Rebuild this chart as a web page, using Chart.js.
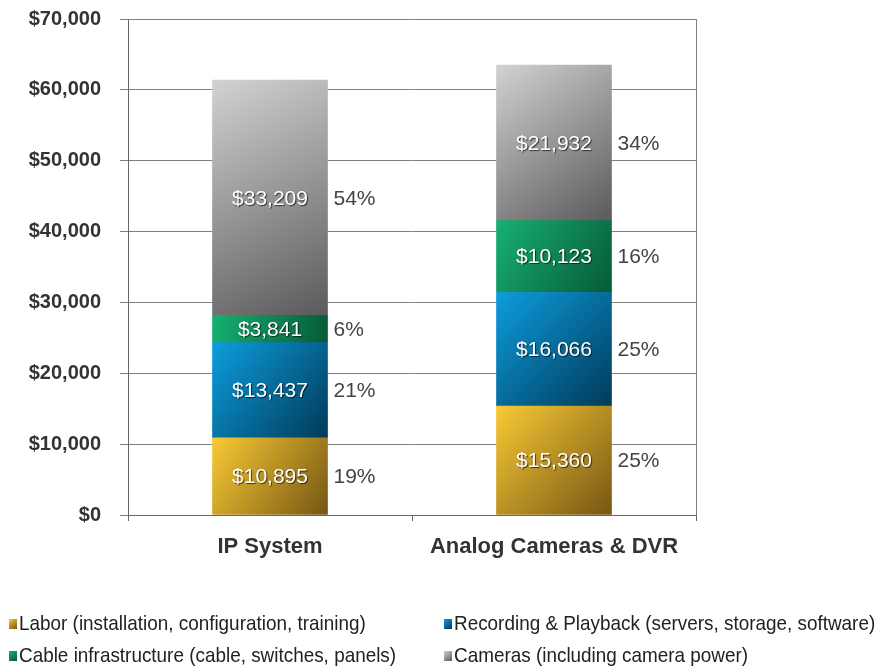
<!DOCTYPE html>
<html>
<head>
<meta charset="utf-8">
<script src="https://cdn.jsdelivr.net/npm/chart.js@4"></script>
<style>
  html, body { margin: 0; padding: 0; background: #fff; }
  #wrap { width: 892px; height: 667px; }
</style>
</head>
<body>
<div id="wrap"><canvas id="costChart" width="892" height="667"></canvas></div>
<script>
// chart data
const categories = ["IP System", "Analog Cameras & DVR"];
const seriesNames = [
  "Labor (installation, configuration, training)",
  "Recording & Playback (servers, storage, software)",
  "Cable infrastructure (cable, switches, panels)",
  "Cameras (including camera power)"
];
const laborCost = [10895, 15360];
const recordingCost = [13437, 16066];
const cableCost = [3841, 10123];
const cameraCost = [33209, 21932];
const laborPct = ["19%", "25%"];
const recordingPct = ["21%", "25%"];
const cablePct = ["6%", "16%"];
const cameraPct = ["54%", "34%"];
const yTickValues = [0, 10000, 20000, 30000, 40000, 50000, 60000, 70000];

// light -> dark gradient per series
const palette = [
  ["#f8ca34", "#765614"],
  ["#0d9ddd", "#003a58"],
  ["#17b072", "#065a36"],
  ["#d2d2d2", "#5a5a5a"]
];
const BAR_W = 115;

function segmentGradient(ctx) {
  const cols = palette[ctx.datasetIndex];
  const chart = ctx.chart;
  const xs = chart.scales.x, ys = chart.scales.y;
  if (!xs || !ys || ctx.type !== "data") return cols[0];
  const i = ctx.dataIndex, d = ctx.datasetIndex;
  let below = 0;
  for (let k = 0; k < d; k++) below += chart.data.datasets[k].data[i];
  const top = below + chart.data.datasets[d].data[i];
  const cx = xs.getPixelForValue(i);
  const y0 = ys.getPixelForValue(top), y1 = ys.getPixelForValue(below);
  if (![cx, y0, y1].every(Number.isFinite)) return cols[0];
  const g = chart.ctx.createLinearGradient(cx - BAR_W / 2, y0, cx + BAR_W / 2, y1);
  g.addColorStop(0, cols[0]);
  g.addColorStop(1, cols[1]);
  return g;
}

const money = v => "$" + Number(v).toLocaleString("en-US");

// value labels inside, percent labels right of each segment
const segmentLabels = {
  id: "segmentLabels",
  afterDatasetsDraw(chart) {
    const c = chart.ctx;
    const pcts = [laborPct, recordingPct, cablePct, cameraPct];
    chart.data.datasets.forEach((ds, d) => {
      chart.getDatasetMeta(d).data.forEach((el, i) => {
        const midY = (el.y + el.base) / 2;
        c.save();
        c.font = "21px 'Liberation Sans', Arial, sans-serif";
        c.textBaseline = "middle";
        c.textAlign = "center";
        c.shadowColor = "rgba(0,0,0,0.65)";
        c.shadowOffsetX = 1;
        c.shadowOffsetY = 1;
        c.shadowBlur = 1;
        c.fillStyle = "#ffffff";
        c.fillText(money(ds.data[i]), el.x, midY + 1);
        c.restore();
        c.save();
        c.font = "21px 'Liberation Sans', Arial, sans-serif";
        c.textBaseline = "middle";
        c.textAlign = "left";
        c.fillStyle = "#444444";
        c.fillText(pcts[d][i], el.x + el.width / 2 + 6, midY + 1);
        c.restore();
      });
    });
  }
};

// right border of the plot
const plotFrame = {
  id: "plotFrame",
  beforeDatasetsDraw(chart) {
    const a = chart.chartArea, c = chart.ctx;
    c.save();
    c.strokeStyle = "#808080";
    c.lineWidth = 1;
    c.beginPath();
    c.moveTo(Math.round(a.right) + 0.5, a.top);
    c.lineTo(Math.round(a.right) + 0.5, a.bottom);
    c.stroke();
    c.restore();
  }
};

// two-column legend at the bottom, condensed text
const bottomLegend = {
  id: "bottomLegend",
  afterDraw(chart) {
    const c = chart.ctx;
    const slots = [[9, 624], [444, 624], [9, 656], [444, 656]];
    chart.data.datasets.forEach((ds, d) => {
      const [x, y] = slots[d];
      const g = c.createLinearGradient(x, y - 5, x + 8, y + 5);
      g.addColorStop(0, palette[d][0]);
      g.addColorStop(1, palette[d][1]);
      c.save();
      c.fillStyle = g;
      c.fillRect(x, y - 5, 8, 10);
      c.translate(x + 10, y);
      c.scale(0.9, 1);
      c.font = "21px 'Liberation Sans', Arial, sans-serif";
      c.textBaseline = "middle";
      c.textAlign = "left";
      c.fillStyle = "#222222";
      c.fillText(ds.label, 0, 0);
      c.restore();
    });
  }
};

const series = [laborCost, recordingCost, cableCost, cameraCost];

new Chart(document.getElementById("costChart"), {
  type: "bar",
  data: {
    labels: categories,
    datasets: series.map((vals, d) => ({
      label: seriesNames[d],
      data: vals,
      backgroundColor: segmentGradient,
      borderWidth: 0,
      barThickness: BAR_W
    }))
  },
  options: {
    responsive: false,
    animation: false,
    layout: { padding: { left: 0, right: 196, top: 19, bottom: 92 } },
    plugins: { legend: { display: false }, tooltip: { enabled: false } },
    scales: {
      x: {
        stacked: true,
        afterFit: s => { s.height = 60; s.paddingLeft = 0; s.paddingRight = 0; },
        grid: { drawOnChartArea: false, drawTicks: true, tickLength: 6, color: "#666666", offset: true },
        border: { color: "#666666" },
        ticks: {
          padding: 13,
          color: "#333333",
          font: { family: "'Liberation Sans', Arial, sans-serif", size: 22, weight: "bold" }
        }
      },
      y: {
        stacked: true,
        min: 0,
        max: 70000,
        afterFit: s => { s.width = 128; s.paddingTop = 0; s.paddingBottom = 0; },
        afterBuildTicks: s => { s.ticks = yTickValues.map(v => ({ value: v })); },
        grid: { color: "#808080", lineWidth: 1, tickLength: 8, drawTicks: true },
        border: { color: "#666666" },
        ticks: {
          padding: 19,
          color: "#333333",
          font: { family: "'Liberation Sans', Arial, sans-serif", size: 20, weight: "bold" },
          callback: v => money(v)
        }
      }
    }
  },
  plugins: [segmentLabels, plotFrame, bottomLegend]
});
</script>
</body>
</html>
